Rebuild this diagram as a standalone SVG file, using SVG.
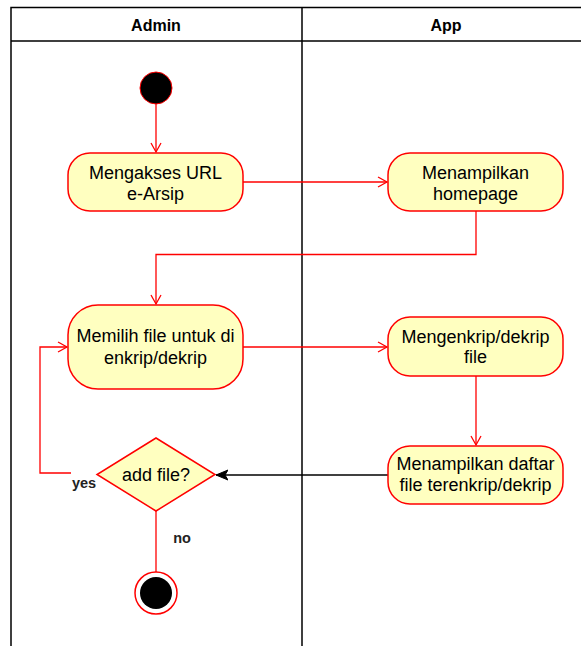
<svg xmlns="http://www.w3.org/2000/svg" width="581" height="646" viewBox="0 0 581 646">
<style>
.lane{fill:none;stroke:#000;stroke-width:1.5}
.hdr{font-family:"Liberation Sans",Arial,sans-serif;font-weight:bold;font-size:16px;fill:#000;text-anchor:middle}
.act{fill:#FFFFC0;stroke:#FF0000;stroke-width:1.5}
.txt{font-family:"Liberation Sans",Arial,sans-serif;font-size:18px;fill:#000;text-anchor:middle}
.lbl{font-family:"Liberation Sans",Arial,sans-serif;font-size:14.5px;font-weight:bold;fill:#222;text-anchor:middle}
.flow{fill:none;stroke:#FF0000;stroke-width:1.3}
.flowk{fill:none;stroke:#000;stroke-width:1.3}
</style>
<defs>
<marker id="open" markerWidth="12" markerHeight="12" refX="10" refY="6" orient="auto" markerUnits="userSpaceOnUse">
<path d="M1,1 L10,6 L1,11" fill="none" stroke="#FF0000" stroke-width="1.3"/>
</marker>
<marker id="blk" markerWidth="14" markerHeight="12" refX="12" refY="6" orient="auto" markerUnits="userSpaceOnUse">
<path d="M0,1 L12,6 L0,11 L3,6 Z" fill="#000" stroke="#000" stroke-width="1"/>
</marker>
</defs>
<g id="swimlanes">
<path class="lane" d="M11,646 V7.5 H581 M11,41 H581 M302,7.5 V646"/>
<text class="hdr" x="156" y="30.5">Admin</text>
<text class="hdr" x="446" y="30.5">App</text>
</g>
<g id="connectors">
<path class="flow" d="M156,104 V152" marker-end="url(#open)"/>
<path class="flow" d="M243,182 H387" marker-end="url(#open)"/>
<path class="flow" d="M476,211 V254.5 H156 V304" marker-end="url(#open)"/>
<path class="flow" d="M243,347 H387" marker-end="url(#open)"/>
<path class="flow" d="M476,376 V445" marker-end="url(#open)"/>
<path class="flowk" d="M388,475 H216" marker-end="url(#blk)"/>
<path class="flow" d="M71,473 H40 V347 H67" marker-end="url(#open)"/>
<path class="flow" d="M156,511 V572"/>
<text class="lbl" x="84" y="488">yes</text>
<text class="lbl" x="182" y="543">no</text>
</g>
<g id="start">
<circle cx="156" cy="88" r="16" fill="#000" stroke="#FF0000" stroke-width="1"/>
</g>
<g id="n1">
<rect class="act" x="68" y="153" width="175" height="58" rx="22"/>
<text class="txt" x="155.5" y="178.5">Mengakses URL</text>
<text class="txt" x="155.5" y="199.5">e-Arsip</text>
</g>
<g id="n2">
<rect class="act" x="388" y="153" width="175" height="58" rx="22"/>
<text class="txt" x="475.5" y="178.5">Menampilkan</text>
<text class="txt" x="475.5" y="199.5">homepage</text>
</g>
<g id="n3">
<rect class="act" x="68" y="305" width="175" height="84" rx="30"/>
<text class="txt" x="155.5" y="342">Memilih file untuk di</text>
<text class="txt" x="155.5" y="364">enkrip/dekrip</text>
</g>
<g id="n4">
<rect class="act" x="388" y="317" width="175" height="59" rx="22"/>
<text class="txt" x="475.5" y="343">Mengenkrip/dekrip</text>
<text class="txt" x="475.5" y="363">file</text>
</g>
<g id="n5">
<rect class="act" x="388" y="446" width="175" height="58" rx="22"/>
<text class="txt" x="475.5" y="470">Menampilkan daftar</text>
<text class="txt" x="475.5" y="491">file terenkrip/dekrip</text>
</g>
<g id="decision">
<path class="act" d="M156,438 L215,474.5 L156,511 L97,474.5 Z"/>
<text class="txt" x="156" y="481">add file?</text>
</g>
<g id="end">
<circle cx="156" cy="593" r="21" fill="#fff" stroke="#FF0000" stroke-width="1.5"/>
<circle cx="156" cy="593" r="16" fill="#000"/>
</g>
</svg>
